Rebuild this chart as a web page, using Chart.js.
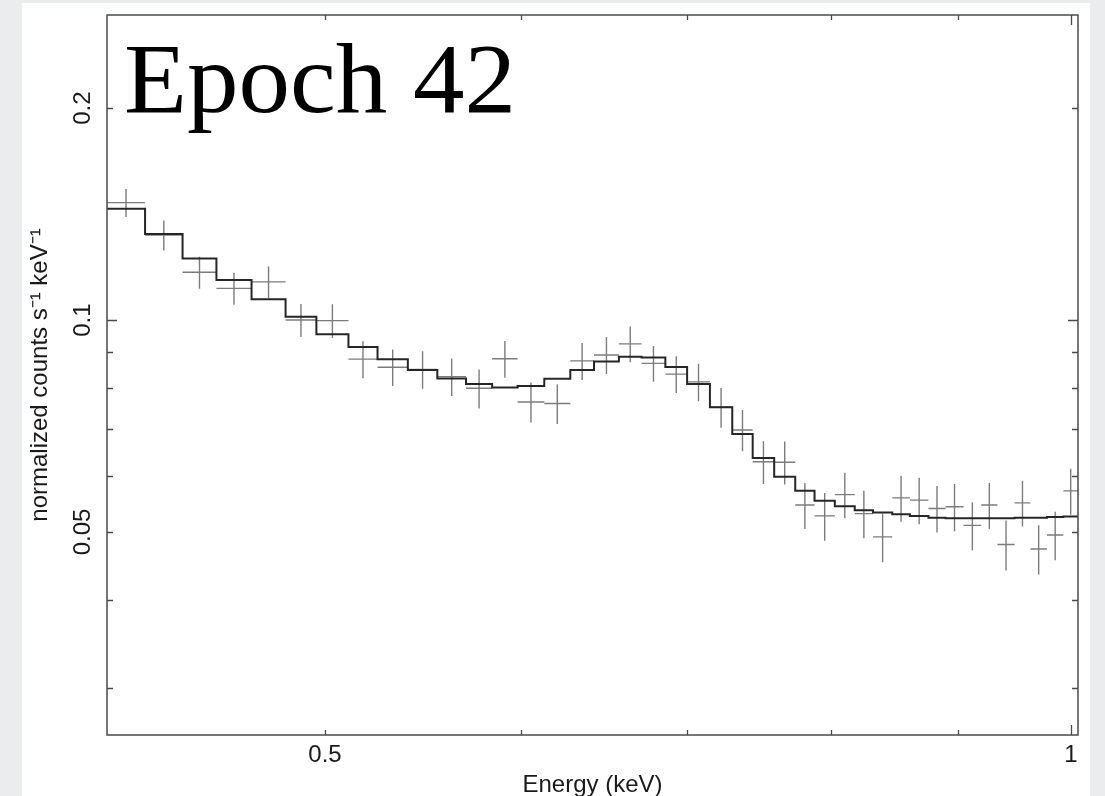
<!DOCTYPE html>
<html lang="en">

<head>
    <meta charset="UTF-8">
    <title>Epoch 42</title>
    <script src="https://cdn.jsdelivr.net/npm/chart.js"></script>
    <style>
        html, body { margin: 0; padding: 0; background: #ebeced; }
        body { width: 1105px; height: 796px; position: relative; overflow: hidden; }
        #spectrum { position: absolute; left: 22px; top: 3px; background: #fff; }
    </style>
</head>

<body>
    <canvas id="spectrum" width="1068" height="793"></canvas>
</body>

</html>
<script>
    // bin edges in keV (41 bins)
    const energyEdges = [0.4083, 0.423, 0.438, 0.452, 0.467, 0.482, 0.496, 0.511, 0.525, 0.540, 0.555,
        0.570, 0.584, 0.598, 0.613, 0.628, 0.642, 0.657, 0.671, 0.686, 0.700, 0.715, 0.730, 0.744,
        0.759, 0.774, 0.788, 0.803, 0.818, 0.832, 0.847, 0.861, 0.876, 0.890, 0.905, 0.920, 0.934,
        0.949, 0.963, 0.978, 0.993, 1.0066];

    // folded model (step line)
    const modelRate = [0.1439, 0.1325, 0.1223, 0.1140, 0.1070, 0.1011, 0.0955, 0.0916, 0.0880, 0.0849,
        0.0826, 0.0811, 0.0802, 0.0806, 0.0825, 0.0849, 0.0873, 0.0887, 0.0885, 0.0858,
        0.0811, 0.0752, 0.0689, 0.0637, 0.0599, 0.0572, 0.0554, 0.0544, 0.0537, 0.0533,
        0.0530, 0.0527, 0.0524, 0.0523, 0.0523, 0.0523, 0.0523, 0.0524, 0.0524, 0.0525, 0.0526];

    // measured counts and 1-sigma errors
    const dataRate = [0.1468, 0.1320, 0.1169, 0.1109, 0.1133, 0.1000, 0.0998, 0.0880, 0.0857, 0.0851,
        0.0831, 0.0800, 0.0881, 0.0765, 0.0761, 0.0875, 0.0892, 0.0925, 0.0868, 0.0838,
        0.0817, 0.0752, 0.0698, 0.0629, 0.0628, 0.0546, 0.0527, 0.0565, 0.0531, 0.0492,
        0.0559, 0.0555, 0.0540, 0.0543, 0.0511, 0.0546, 0.0480, 0.0550, 0.0473, 0.0495, 0.0572];
    const dataErr = [0.0067, 0.0065, 0.0061, 0.0058, 0.0058, 0.0054, 0.0055, 0.0053, 0.0051, 0.0052,
        0.0051, 0.0051, 0.0053, 0.0050, 0.0049, 0.0053, 0.0054, 0.0054, 0.0051, 0.0050,
        0.0050, 0.0049, 0.0047, 0.0044, 0.0044, 0.0041, 0.0041, 0.0042, 0.0041, 0.0039,
        0.0042, 0.0042, 0.0041, 0.0042, 0.0040, 0.0041, 0.0039, 0.0041, 0.0038, 0.0039, 0.0043];

    // axes
    const xMin = 0.4083, xMax = 1.0066;
    const yMin = 0.02574, yMax = 0.2712;
    const xTickLabels = [0.5, 1];
    const xMinorTicks = [0.6, 0.7, 0.8, 0.9];
    const yTickLabels = [0.05, 0.1, 0.2];
    const yMinorTicks = [0.03, 0.04, 0.06, 0.07, 0.08, 0.09];
    const decadeTicks = [0.1, 1];

    const plotTitle = 'Epoch 42';
    const xTitle = 'Energy (keV)';
    const yTitle = 'normalized counts s\u207B\u00B9 keV\u207B\u00B9';

    // model as a step line over the bin edges
    let modelPoints = [];
    for (var i = 0; i < modelRate.length; i++) {
        modelPoints.push({ x: energyEdges[i], y: modelRate[i] });
    }
    modelPoints.push({ x: energyEdges[energyEdges.length - 1], y: modelRate[modelRate.length - 1] });

    // crosses: horizontal = bin width, vertical = error, separated by gaps
    let binBars = [];
    let errBars = [];
    for (var i = 0; i < dataRate.length; i++) {
        const lo = energyEdges[i], hi = energyEdges[i + 1];
        const mid = Math.sqrt(lo * hi);
        binBars.push({ x: lo, y: dataRate[i] }, { x: hi, y: dataRate[i] }, { x: hi, y: null });
        errBars.push({ x: mid, y: dataRate[i] - dataErr[i] }, { x: mid, y: dataRate[i] + dataErr[i] }, { x: mid, y: null });
    }

    const sansFont = '"Liberation Sans", Arial, Helvetica, sans-serif';

    // frame, inward ticks, labels and titles
    const axisFrame = {
        id: 'axisFrame',
        afterDraw(chart) {
            const ctx = chart.ctx;
            const a = chart.chartArea;
            const xs = chart.scales.x, ys = chart.scales.y;
            ctx.save();
            ctx.strokeStyle = '#4a4a4a';
            ctx.lineWidth = 1.5;
            ctx.strokeRect(a.left, a.top, a.right - a.left, a.bottom - a.top);

            ctx.lineWidth = 1.3;
            ctx.beginPath();
            xTickLabels.concat(xMinorTicks).forEach(function (v) {
                const px = Math.round(xs.getPixelForValue(v)) + 0.5;
                const len = decadeTicks.includes(v) ? 10 : 5;
                ctx.moveTo(px, a.bottom); ctx.lineTo(px, a.bottom - len);
                ctx.moveTo(px, a.top); ctx.lineTo(px, a.top + len);
            });
            yTickLabels.concat(yMinorTicks).forEach(function (v) {
                const py = Math.round(ys.getPixelForValue(v)) + 0.5;
                const len = decadeTicks.includes(v) ? 10 : 6;
                ctx.moveTo(a.left, py); ctx.lineTo(a.left + len, py);
                ctx.moveTo(a.right, py); ctx.lineTo(a.right - len, py);
            });
            ctx.stroke();

            ctx.fillStyle = '#1a1a1a';
            ctx.font = '24px ' + sansFont;
            ctx.textAlign = 'center';
            ctx.textBaseline = 'middle';
            xTickLabels.forEach(function (v) {
                ctx.fillText(String(v), xs.getPixelForValue(v), a.bottom + 20);
            });
            yTickLabels.forEach(function (v) {
                ctx.save();
                ctx.translate(a.left - 24, ys.getPixelForValue(v));
                ctx.rotate(-Math.PI / 2);
                ctx.fillText(String(v), 0, 0);
                ctx.restore();
            });

            ctx.textBaseline = 'alphabetic';
            ctx.fillText(xTitle, (a.left + a.right) / 2, a.bottom + 57);

            ctx.save();
            ctx.translate(a.left - 67, (a.top + a.bottom) / 2);
            ctx.rotate(-Math.PI / 2);
            ctx.textBaseline = 'middle';
            ctx.fillText(yTitle, 0, 0);
            ctx.restore();

            // big serif label, stretched a little to the width it has in the picture
            ctx.fillStyle = '#000';
            ctx.font = '100px "Liberation Serif", "Times New Roman", serif';
            ctx.textAlign = 'left';
            ctx.textBaseline = 'alphabetic';
            const w = ctx.measureText(plotTitle).width;
            ctx.translate(a.left + 17, a.top + 97);
            ctx.scale(392 / w, 1);
            ctx.fillText(plotTitle, 0, 0);
            ctx.restore();
        }
    };

    const config = {
        type: 'scatter',
        data: {
            datasets: [{
                label: 'model',
                data: modelPoints,
                showLine: true,
                stepped: 'before',
                borderColor: '#262626',
                borderWidth: 2,
                pointRadius: 0,
                fill: false
            }, {
                label: 'data (bin width)',
                data: binBars,
                showLine: true,
                spanGaps: false,
                borderColor: '#7c7c7c',
                borderWidth: 1.4,
                pointRadius: 0
            }, {
                label: 'data (error)',
                data: errBars,
                showLine: true,
                spanGaps: false,
                borderColor: '#7c7c7c',
                borderWidth: 1.4,
                pointRadius: 0
            }]
        },
        options: {
            responsive: false,
            animation: false,
            devicePixelRatio: 1,
            layout: { padding: { left: 85, top: 12, right: 12, bottom: 61 } },
            plugins: { legend: { display: false }, tooltip: { enabled: false } },
            scales: {
                x: { type: 'logarithmic', min: xMin, max: xMax, display: false },
                y: { type: 'logarithmic', min: yMin, max: yMax, display: false }
            }
        },
        plugins: [axisFrame]
    };

    let chartSpectrum = new Chart(document.getElementById('spectrum'), config);
</script>
